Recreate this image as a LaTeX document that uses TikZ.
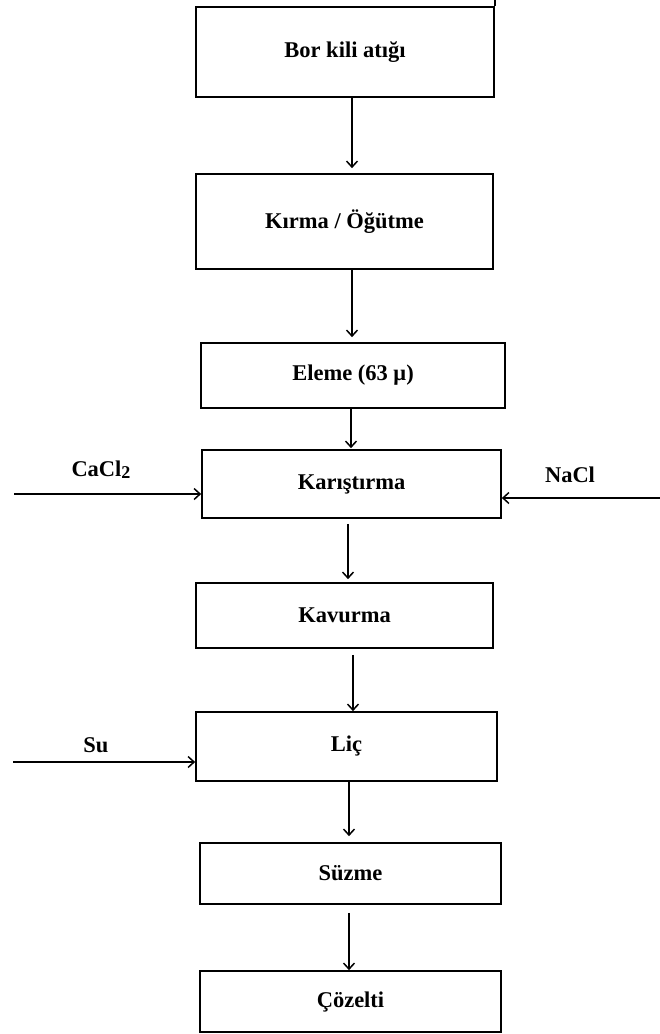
\documentclass[tikz,border=0pt]{standalone}
\usepackage{fontspec}
\setmainfont{Liberation Serif}
\usetikzlibrary{arrows.meta,calc}
\begin{document}
\begin{tikzpicture}[x=1pt,y=-1pt,
  box/.style={draw,line width=1.7pt,rectangle,inner sep=0pt,
    font=\fontsize{22.5}{25}\selectfont\bfseries},
  lbl/.style={inner sep=0pt,font=\fontsize{22.5}{25}\selectfont\bfseries},
  arr/.style={line width=1.5pt,-{Straight Barb[length=6pt,width=11pt,line width=1.5pt]}}]
\useasboundingbox (0,0) rectangle (660,1034);
\fill[white] (0,0) rectangle (660,1034);
\node[box,minimum width=298pt,minimum height=90pt] (b1) at (345,52) {Bor kili atığı};
\node[box,minimum width=297pt,minimum height=95pt] (b2) at (344.5,221.5) {Kırma / Öğütme};
\node[box,minimum width=304pt,minimum height=65pt] (b3) at (353,375.5) {Eleme (63 μ)};
\node[box,minimum width=299pt,minimum height=68pt] (b4) at (351.5,484) {Karıştırma};
\node[box,minimum width=297pt,minimum height=65pt] (b5) at (344.5,615.5) {Kavurma};
\node[box,minimum width=301pt,minimum height=69pt] (b6) at (346.5,746.5) {Liç};
\node[box,minimum width=301pt,minimum height=61pt] (b7) at (350.5,873.5) {Süzme};
\node[box,minimum width=301pt,minimum height=61pt] (b8) at (350.5,1001.5) {Çözelti};
% stray tick
\draw[line width=1.4pt] (b1.north east) -- ++(0,-8);
% side inputs
\node[lbl] (cacl) at (101,470) {CaCl\raisebox{-2pt}{\fontsize{18}{20}\selectfont 2}};
\node[lbl] (nacl) at (570,475) {NaCl};
\node[lbl] (su) at (96,745) {Su};
\coordinate (cin) at (14,494);
\coordinate (nin) at (660,498);
\coordinate (sin) at (13,762);
\draw[arr] (cin) -- (cin -| b4.west);
\draw[arr] (nin) -- (nin -| b4.east);
\draw[arr] (sin) -- (sin -| b6.west);
% vertical flow
\draw[arr,shorten >=5pt] ([xshift=7pt]b1.south) -- ([xshift=7pt]b1.south |- b2.north);
\draw[arr,shorten >=5pt] ([xshift=7.5pt]b2.south) -- ([xshift=7.5pt]b2.south |- b3.north);
\draw[arr,shorten >=1pt] ([xshift=-2pt]b3.south) -- ([xshift=-2pt]b3.south |- b4.north);
\draw[arr,shorten <=5pt,shorten >=3pt] ([xshift=-3.5pt]b4.south) -- ([xshift=-3.5pt]b4.south |- b5.north);
\draw[arr,shorten <=6pt,shorten >=0pt] ([xshift=8.5pt]b5.south) -- ([xshift=8.5pt]b5.south |- b6.north);
\draw[arr,shorten >=6pt] ([xshift=2.5pt]b6.south) -- ([xshift=2.5pt]b6.south |- b7.north);
\draw[arr,shorten <=8pt,shorten >=0pt] ([xshift=-1.5pt]b7.south) -- ([xshift=-1.5pt]b7.south |- b8.north);
\end{tikzpicture}
\end{document}
